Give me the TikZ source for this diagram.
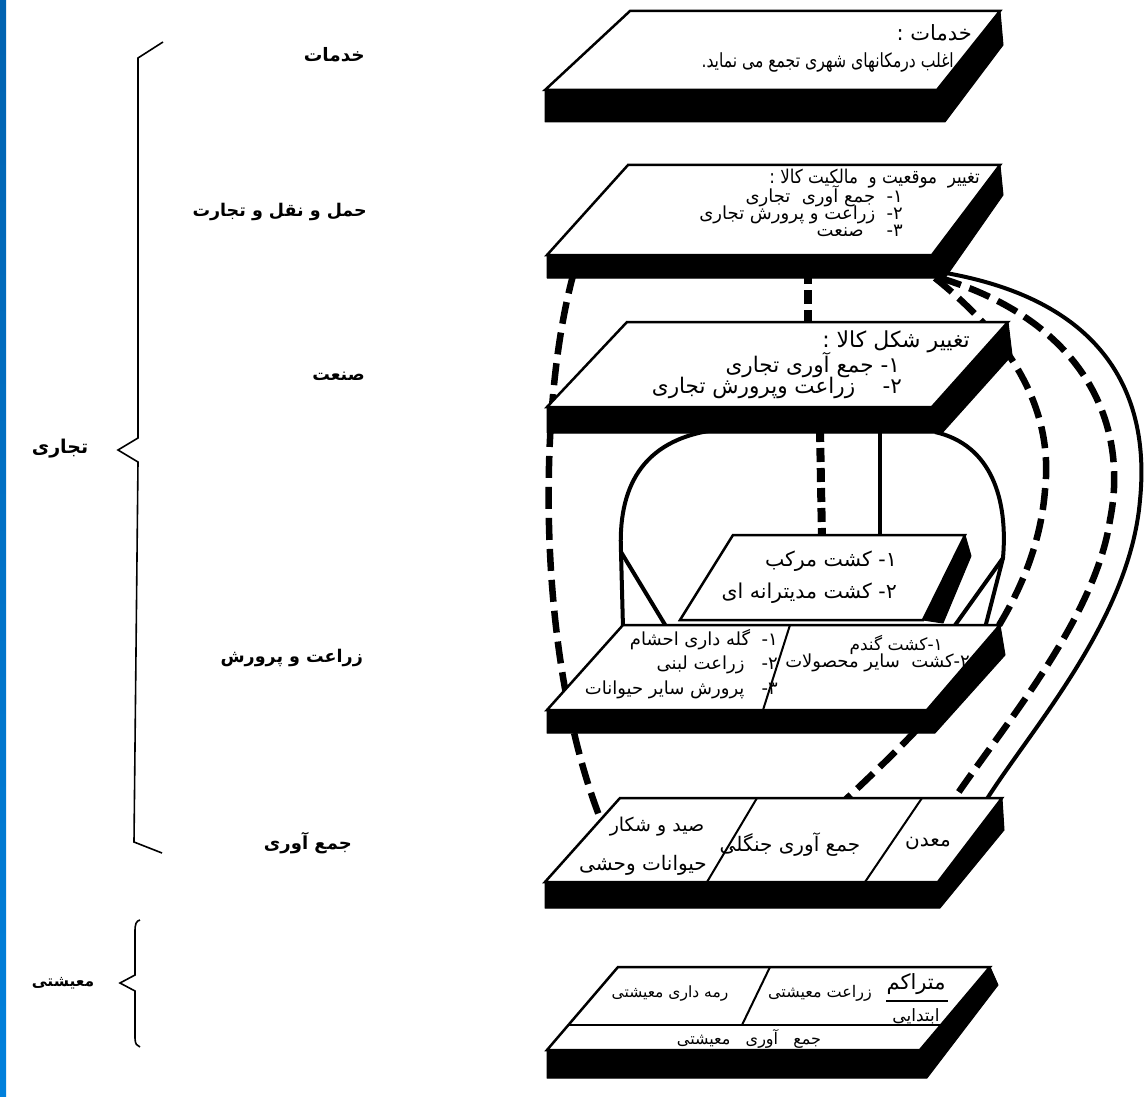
\documentclass[tikz,border=0pt]{standalone}
\usepackage{fontspec}
\TeXXeTstate=1
\newfontfamily\fa[Script=Arabic]{DejaVu Sans}
\newfontfamily\fan[Script=Arabic,FakeStretch=0.88]{DejaVu Sans}
\newfontfamily\fac[Script=Arabic,FakeStretch=0.8]{DejaVu Sans}
\newcommand{\rtl}[1]{\beginR #1\endR}
\definecolor{stripA}{RGB}{0,98,176}
\definecolor{stripB}{RGB}{0,128,220}
\tikzset{
 slabblack/.style={fill=black, draw=black, line width=1pt, line join=round},
 slabface/.style={fill=white, draw=black, line width=2.5pt, line join=miter},
 divider/.style={draw=black, line width=2pt},
 solidlink/.style={draw=black, line width=4pt},
 dashlink/.style={draw=black, line width=6.5pt, dash pattern=on 22pt off 9pt},
 vdash/.style={draw=black, line width=8pt, dash pattern=on 14pt off 6pt},
 brace/.style={draw=black, line width=1.6pt, line join=miter},
 txt/.style={inner sep=0pt, font=\fa\fontsize{#1}{#1}\selectfont},
 txt/.default=18,
 ntxt/.style={inner sep=0pt, font=\fan\fontsize{#1}{#1}\selectfont},
 ntxt/.default=18,
 ctxt/.style={inner sep=0pt, font=\fac\fontsize{#1}{#1}\selectfont},
 ctxt/.default=18,
 tight/.style={text height=10pt, text depth=4pt},
 lbl/.style={inner sep=0pt, font=\fa\bfseries\fontsize{#1}{#1}\selectfont},
 lbl/.default=18,
}
\begin{document}
\begin{tikzpicture}[x=1pt,y=-1pt]
\useasboundingbox (0,0) rectangle (1146,1097);
\fill[white] (0,0) rectangle (1146,1097);
\shade[top color=stripA, bottom color=stripB] (0,0) rectangle (6,1097);

% ---------- connector end points ----------
\coordinate (s2bl) at (574,272);
\coordinate (s2bc) at (808,270);
\coordinate (s2br1) at (935,278);
\coordinate (s2br2) at (940,278);
\coordinate (s2br3) at (940,272);
\coordinate (s3tc) at (808,330);
\coordinate (s3b1) at (820,428);
\coordinate (s3b2) at (880,428);
\coordinate (s3bl) at (715,430);
\coordinate (s3br) at (935,432);
\coordinate (s4t1) at (822,540);
\coordinate (s4t2) at (880,540);
\coordinate (s5tl) at (623,628);
\coordinate (s5tl2) at (667,628);
\coordinate (s5tr) at (985,628);
\coordinate (s5tr2) at (953,628);
\coordinate (s6t1) at (600,818);
\coordinate (s6t2) at (843,802);
\coordinate (s6t3) at (952,802);
\coordinate (s6t4) at (985,802);
\coordinate (ljoin) at (621,552);
\coordinate (rjoin) at (1003,558);

% ---------- connectors ----------
\draw[dashlink] (s2bl) .. controls (538,400) and (535,650) .. (s6t1);
\draw[dashlink] (s2br1) .. controls (1000,330) and (1055,400) .. (1045,490)
   .. controls (1035,620) and (930,720) .. (s6t2);
\draw[dashlink] (s2br2) .. controls (1080,320) and (1130,420) .. (1110,520)
   .. controls (1095,620) and (1000,730) .. (s6t3);
\draw[solidlink] (s2br3) .. controls (1110,300) and (1150,400) .. (1140,500)
   .. controls (1130,620) and (1030,730) .. (s6t4);
\draw[vdash] (s2bc) -- (s3tc);
\draw[vdash] (s3b1) -- (s4t1);
\draw[solidlink] (s3b2) -- (s4t2);
\draw[solidlink] (s3bl) .. controls (640,440) and (618,490) .. (ljoin) -- (s5tl);
\draw[solidlink] (ljoin) -- (s5tl2);
\draw[solidlink] (s3br) .. controls (992,445) and (1008,500) .. (rjoin) -- (s5tr);
\draw[solidlink] (rjoin) -- (s5tr2);

% ---------- slab 7 (subsistence) ----------
\fill[slabblack] (547,1050) -- (920,1050) -- (990,967) -- (998,985) -- (927,1078) -- (547,1078) -- cycle;
\draw[slabface] (618,967) -- (990,967) -- (920,1050) -- (547,1050) -- cycle;
\draw[divider] (568,1025) -- (941,1025);
\draw[divider] (770,967) -- (742,1025);
\node[txt=15.5] (t7a) at (670,993) {\rtl{رمه داری معیشتی}};
\node[txt=16] (t7b) at (820,993) {\rtl{زراعت معیشتی}};
\node[txt=21] (t7c) at (916,984) {\rtl{متراکم}};
\draw[line width=1.8pt] (886,1001) -- (948,1001);
\node[txt=17] (t7d) at (916,1016) {\rtl{ابتدایی}};
\node[txt=16] (t7e) at (749,1039) {\rtl{جمع~~~آوری~~~معیشتی}};

% ---------- slab 6 (gathering) ----------
\fill[slabblack] (545,882) -- (938,882) -- (1002,798) -- (1004,830) -- (940,908) -- (545,908) -- cycle;
\draw[slabface] (620,798) -- (1002,798) -- (938,882) -- (545,882) -- cycle;
\draw[divider] (757,798) -- (707,882);
\draw[divider] (922,798) -- (865,882);
\node[txt=19] (t6a) at (657,827) {\rtl{صید و شکار}};
\node[txt=20] (t6b) at (643,865) {\rtl{حیوانات وحشی}};
\node[txt=20] (t6c) at (790,845) {\rtl{جمع آوری جنگلی}};
\node[txt=20] (t6d) at (928,843) {\rtl{معدن}};

% ---------- slab 5 ----------
\fill[slabblack] (547,710) -- (927,710) -- (1000,625) -- (1005,655) -- (935,733) -- (547,733) -- cycle;
\draw[slabface] (623,625) -- (1000,625) -- (927,710) -- (547,710) -- cycle;
\draw[divider] (790,625) -- (763,710);
\node[txt=18, anchor=east] (t5a) at (778,640) {\rtl{١-~~گله داری احشام}};
\node[txt=18, anchor=east] (t5b) at (778,665) {\rtl{٢-~~~زراعت لبنی}};
\node[txt=18, anchor=east] (t5c) at (778,690) {\rtl{٣-~~~پرورش سایر حیوانات}};
\node[txt=17, anchor=east] (t5d) at (943,645) {\rtl{١-کشت گندم}};
\node[txt=18, anchor=east] (t5e) at (970,663) {\rtl{٢-کشت~~سایر محصولات}};

% ---------- slab 4 ----------
\fill[slabblack] (923,620) -- (965,535) -- (971,556) -- (943,623) -- cycle;
\draw[slabface] (733,535) -- (965,535) -- (923,620) -- (680,620) -- cycle;
\node[txt=20.5, anchor=east] (t4a) at (897,561) {\rtl{١- کشت مرکب}};
\node[txt=20.5, anchor=east] (t4b) at (897,593) {\rtl{٢- کشت مدیترانه ای}};

% ---------- slab 3 ----------
\fill[slabblack] (547,407) -- (932,407) -- (1008,322) -- (1012,355) -- (942,433) -- (547,433) -- cycle;
\draw[slabface] (627,322) -- (1008,322) -- (932,407) -- (547,407) -- cycle;
\node[txt=22, anchor=east] (t3a) at (970,342) {\rtl{تغییر شکل کالا :}};
\node[txt=21.5, anchor=east] (t3b) at (900,365) {\rtl{١- جمع آوری تجاری}};
\node[txt=21.5, anchor=east] (t3c) at (902,388) {\rtl{٢-~~~~زراعت وپرورش تجاری}};

% ---------- slab 2 ----------
\fill[slabblack] (547,255) -- (932,255) -- (1000,165) -- (1003,195) -- (945,278) -- (547,278) -- cycle;
\draw[slabface] (628,165) -- (1000,165) -- (932,255) -- (547,255) -- cycle;
\node[ntxt=19, tight, anchor=east] (t2a) at (980,180) {\rtl{تغییر~~موقعیت و~~مالکیت کالا :}};
\node[txt=18, tight, anchor=east] (t2b) at (903,199) {\rtl{١-~~جمع آوری~~تجاری}};
\node[txt=18, tight, anchor=east] (t2c) at (903,216) {\rtl{٢-~~زراعت و پرورش تجاری}};
\node[txt=18, tight, anchor=east] (t2d) at (903,233) {\rtl{٣-~~~~صنعت}};

% ---------- slab 1 ----------
\fill[slabblack] (545,90) -- (937,90) -- (1000,11) -- (1003,45) -- (945,122) -- (545,122) -- cycle;
\draw[slabface] (630,11) -- (1000,11) -- (937,90) -- (545,90) -- cycle;
\node[txt=21, anchor=east] (t1a) at (972,33) {\rtl{خدمات :}};
\node[ctxt=19.5, anchor=east] (t1b) at (954,62) {\rtl{اغلب درمکانهای شهری تجمع می نماید.}};

% ---------- left labels ----------
\node[lbl=18.5, anchor=east] (l1) at (365,55) {\rtl{خدمات}};
\node[lbl=17.5, anchor=east] (l2) at (367,212) {\rtl{حمل و نقل و تجارت}};
\node[lbl=17.5, anchor=east] (l3) at (365,376) {\rtl{صنعت}};
\node[lbl=17.5, anchor=east] (l4) at (363,658) {\rtl{زراعت و پرورش}};
\node[lbl=18, anchor=east] (l5) at (352,843) {\rtl{جمع آوری}};
\node[lbl=19] (l6) at (60,449) {\rtl{تجاری}};
\node[lbl=15.5] (l7) at (63,983) {\rtl{معیشتی}};

% ---------- braces ----------
\draw[brace] (163,42) -- (138,58) -- (138,438) -- (118,450) -- (138,462) -- (134,842) -- (162,853);
\draw[brace] (140,920) .. controls (136,921) and (135,924) .. (135,932) -- (135,975) -- (120,983) -- (135,991)
  -- (135,1038) .. controls (135,1044) and (137,1046) .. (140,1047);
\end{tikzpicture}
\end{document}
